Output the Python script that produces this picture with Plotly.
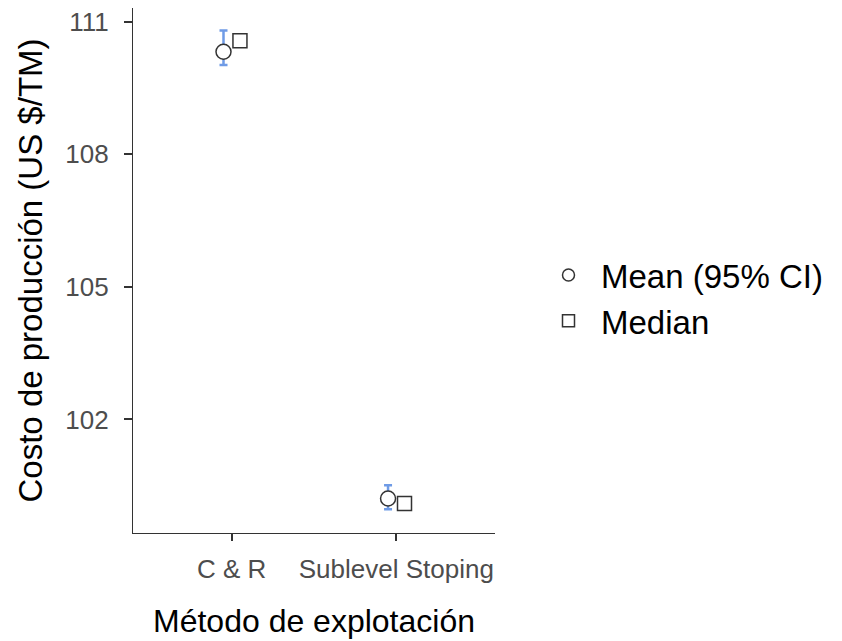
import numpy as np
import plotly.graph_objects as go

categories = ["C & R", "Sublevel Stoping"]
mean_values = [110.32, 100.21]
ci_upper = [110.80, 100.51]
ci_lower = [110.02, 99.97]
median_values = [110.57, 100.10]
y_ticks = [102, 105, 108, 111]

idx = np.arange(len(categories))
dodge = 0.05
mean_arr = np.array(mean_values)
err_plus = np.array(ci_upper) - mean_arr
err_minus = mean_arr - np.array(ci_lower)

FONT = "Liberation Sans, Arial, sans-serif"
fig = go.Figure()

fig.add_trace(go.Scatter(
    x=idx - dodge, y=mean_values, mode="markers", showlegend=False,
    marker=dict(symbol="circle", size=15, color="white",
                line=dict(color="#333333", width=1.5)),
    error_y=dict(type="data", array=err_plus, arrayminus=err_minus,
                 color="#6F9BE6", thickness=2.5, width=4),
))
fig.add_trace(go.Scatter(
    x=idx + dodge, y=median_values, mode="markers", showlegend=False,
    marker=dict(symbol="square", size=14, color="white",
                line=dict(color="#333333", width=1.5)),
))
# legend entries
fig.add_trace(go.Scatter(
    x=[None], y=[None], mode="markers", name="Mean (95% CI)",
    marker=dict(symbol="circle", size=12, color="white",
                line=dict(color="#333333", width=1.5)),
))
fig.add_trace(go.Scatter(
    x=[None], y=[None], mode="markers", name="Median",
    marker=dict(symbol="square", size=12, color="white",
                line=dict(color="#333333", width=1.5)),
))

fig.update_layout(
    width=842, height=641,
    margin=dict(l=125, r=355, t=0, b=116, autoexpand=False),
    paper_bgcolor="white", plot_bgcolor="white",
    font=dict(family=FONT, color="black"),
    legend=dict(
        xref="container", yref="container",
        x=(536 - 8) / 842, y=1 - (298 - 8) / 641, xanchor="left", yanchor="middle",
        font=dict(size=33, color="black"),
        itemwidth=55, tracegroupgap=0,
        bgcolor="rgba(0,0,0,0)",
    ),
    xaxis=dict(
        range=[-0.6, 1.6], tickmode="array", tickvals=idx, ticktext=categories,
        showgrid=False, zeroline=False, automargin=False,
        showline=True, linecolor="#333333", linewidth=1.2,
        ticks="outside", ticklen=7, tickwidth=1.5, tickcolor="#333333",
        tickfont=dict(size=26, color="#4D4D4D"), ticklabelstandoff=6,
        title=dict(text="Método de explotación", font=dict(size=32, color="black"),
                   standoff=26),
    ),
    yaxis=dict(
        range=[99.43, 111.31], tickmode="array", tickvals=y_ticks,
        ticktext=[str(t) for t in y_ticks],
        showgrid=False, zeroline=False, automargin=False,
        showline=True, linecolor="#333333", linewidth=1.2,
        ticks="outside", ticklen=8, tickwidth=1.5, tickcolor="#333333",
        tickfont=dict(size=26, color="#4D4D4D"), ticklabelstandoff=10,
        ticklabeloverflow="allow",
        title=dict(text="Costo de producción (US $/TM)",
                   font=dict(size=33, color="black"), standoff=12),
    ),
)

fig.write_html("out.html")
